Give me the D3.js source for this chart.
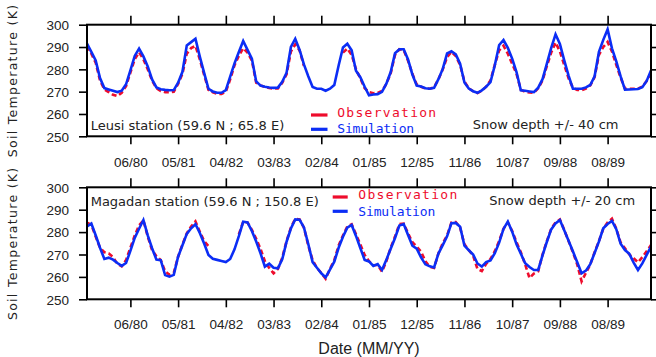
<!DOCTYPE html>
<html><head><meta charset="utf-8">
<script src="https://cdn.jsdelivr.net/npm/d3@7"></script>
<style>body{margin:0;background:#fff}svg{display:block}</style>
</head><body>
<svg id="c" width="656" height="357"></svg>
<script>
// Month index: 0 = Jan 1979. Monthly series run from Aug 1979 (7) to Jun 1990 (137).
const firstMonth = 7;
const lastMonth = 137;
const tickMonths = [17, 28, 39, 50, 61, 72, 83, 94, 105, 116, 127];
const tickLabels = ["06/80","05/81","04/82","03/83","02/84","01/85","12/85","11/86","10/87","09/88","08/89"];
const yTicks = [250, 260, 270, 280, 290, 300];
const seriesNames = ["Observation", "Simulation"];

// Leusi station (rows: 1979 Aug-Dec, then Jan-Dec each year, 1990 Jan-Jun)
const leusiObs = [
 290.5,287,283,275,271,
 269.8,268.6,268,269.5,272.5,278.5,284.5,287.6,284.5,280,275,271.5,
 270.3,269.8,269.8,270,273.5,278,287,289.5,290.5,284.5,277.5,270.8,
 269.7,269,269,270,275.5,281.8,286,289.5,287.5,284,274,272.8,
 272.1,271.6,271.4,271.4,274,277.8,288,291.2,288.5,281.5,null,null,
 null,null,null,null,null,null,287.5,289.3,286.5,280,276,271.5,
 269.8,269.3,269.4,270.3,273.5,278.2,286.5,289,288.6,283.8,278,273.2,
 272.2,271.4,271.3,272,275.5,280,285.5,287.8,286,282,274.5,271.5,
 270.2,269.4,270.4,272.2,275,282,288.5,290.6,287,282.5,278,270.8,
 270,269.6,269.5,271.5,275,281.5,287.5,292,288,282,276,271.7,
 270.8,270.6,271.4,272.8,276.5,286.5,290,292.3,288,282,276.3,271.3,
 271.3,271.3,271.3,272.3,274.8,278.5
];
const leusiSim = [
 291.5,287.8,284,276.1,271.6,
 271,270.4,269.8,270.4,273.3,279.5,286,289.3,285.8,281.3,275.5,271.9,
 271.1,270.8,270.6,270.7,274,278.9,290.7,292.2,293.7,285.7,278.4,271.3,
 270.1,269.5,269.5,270.7,276.7,282.7,287.8,292.7,288.7,284.8,274.6,272.7,
 272.2,271.9,271.7,271.8,274.4,278.5,290,293.7,288.7,282.2,276.9,272.1,
 271.3,271.3,270.4,271.3,273,281.7,289.8,291.5,288.5,279.4,276.5,272.2,
 268.4,268.7,268.9,269.9,273.6,278.8,287.2,289,289,284.4,277.7,272.7,
 272.3,271.5,271.3,271.7,275.6,280.2,287.1,288.1,286.7,282.5,274.1,271.4,
 270.2,269.5,270.6,272.2,274.3,281.8,290.9,293.1,289.6,284.8,278.8,270.6,
 270.4,270.1,269.8,271.8,275.6,282.6,289.6,295.7,291.4,284,277.2,271.3,
 271.3,271.3,271.9,273,276.9,287.8,293.2,297.9,289.4,283.6,276.8,270.9,
 271,271.1,271.2,272,274.8,279.5
];

// Magadan station
const magadanObs = [
 284.2,283.3,278,273,271,
 270.5,268.8,265.8,264.7,267.5,273,278.5,283,285.2,278,272,269.2,
 267.5,262.5,261,261.8,269,274.5,279.4,282.5,284.8,280.2,276,273.7,
 null,null,null,null,null,null,279,284.6,284.3,281,277,272.5,
 267,264,261.6,263.5,268.5,276,282,285.9,285.6,282,274,267.5,
 264,261.8,259.2,263.5,267.5,274,278.5,282.5,283.5,279,274.5,269.8,
 267,265.2,265.3,262.3,267,273,278,283.6,283.8,279.5,275.5,273.5,
 271.2,267,264.5,264,270.5,275,278.5,284.3,284.5,282,274.5,272,
 269.5,263.5,262.6,265.8,268,271.5,276,281.5,284.3,280.5,275.5,271,
 265.5,259.5,261.5,262.5,270,276,281.5,284.3,285.6,281,276,271,
 265.5,258,261.8,265.5,271,276,281.5,284.3,286,281.5,275.3,272.8,
 270,268.3,266.5,268.8,271.5,274.2
];
const magadanSim = [
 282.5,283.8,278.6,273,268,
 268.6,267.7,266.2,264.9,266.2,271.6,277.4,281.5,285.4,278.5,272.8,267.7,
 267.5,260.8,260.1,260.9,269,274.1,279.2,281.7,283.5,279.6,274.9,269.8,
 268.1,267.6,267.1,266.6,268,272.3,278.2,284.6,284.3,280.5,275.8,270.5,
 264.6,265.9,264.1,263.8,267.8,275.7,281.6,285.7,285.5,282.1,274.7,266.6,
 264.1,261.6,259.8,263.3,266.8,273,277.9,282,283.2,278.3,272.9,267.6,
 266.9,264.9,265.7,263.1,267.6,272.6,277.4,282.9,283.6,278.7,273.9,272.6,
 268.7,265.6,264.7,264.2,270.4,274.2,278.1,284,284.1,282.4,274,271.9,
 270,266,264.6,266.6,267.3,270.6,275.3,281.4,284.7,280.2,274.6,270.3,
 266.1,264.4,263.1,263.1,269.6,275.7,281.2,283.9,285.4,280.8,276.1,271.4,
 266.5,261.6,262.8,265.7,270.7,275.8,281.7,283.6,285,281.3,274.8,272,
 270.3,266.4,263.1,266,269.8,273.5
];

const months = d3.range(firstMonth, lastMonth + 1);
const RED = "#ee0c2c", BLUE = "#0b2df5";
const FONT = "DejaVu Sans, Liberation Sans, sans-serif";
const TICKFONT = "Liberation Sans, Arial, sans-serif";
const MONO = "DejaVu Sans Mono, Liberation Mono, monospace";

const svg = d3.select("#c");
const X0 = 87, X1 = 651;
const x = d3.scaleLinear().domain([firstMonth, lastMonth]).range([X0, X1]);

const panels = [
  {top: 24.7, bottom: 136.3, obs: leusiObs, sim: leusiSim, labelY: 162,
   station: "Leusi station (59.6 N ; 65.8 E)", stationY: 125.7,
   snow: "Snow depth +/- 40 cm", snowX: 472.7, snowY: 124.7,
   legX1: 311, legX2: 327.5, legTx: 337.2, legY: [112.3, 128], legLineY: [115, 129.3]},
  {top: 187.3, bottom: 299.3, obs: magadanObs, sim: magadanSim, labelY: 324.7,
   station: "Magadan station (59.6 N ; 150.8 E)", stationY: 201.3,
   snow: "Snow depth +/- 20 cm", snowX: 489.3, snowY: 200.7,
   legX1: 332.7, legX2: 347.7, legTx: 358.3, legY: [194.7, 211.3], legLineY: [197, 211.3]}
];

panels.forEach((p, i) => {
  const y = d3.scaleLinear().domain([250, 300]).range([p.bottom, p.top]);
  const g = svg.append("g");
  const clipId = "clip" + i;
  svg.append("clipPath").attr("id", clipId).append("rect")
    .attr("x", X0).attr("y", p.top).attr("width", X1 - X0).attr("height", p.bottom - p.top);

  // axes (ticks outward on all four sides)
  const left = g.append("g").attr("transform", `translate(${X0},0)`)
    .call(d3.axisLeft(y).tickValues(yTicks).tickSize(8).tickPadding(10).tickSizeOuter(0));
  const right = g.append("g").attr("transform", `translate(${X1},0)`)
    .call(d3.axisRight(y).tickValues(yTicks).tickSize(6).tickFormat("").tickSizeOuter(0));
  const topA = g.append("g").attr("transform", `translate(0,${p.top})`)
    .call(d3.axisTop(x).tickValues(tickMonths).tickSize(9).tickFormat("").tickSizeOuter(0));
  const bot = g.append("g").attr("transform", `translate(0,${p.bottom})`)
    .call(d3.axisBottom(x).tickValues(tickMonths).tickSize(8).tickSizeOuter(0)
      .tickFormat((d, k) => tickLabels[k]));
  [left, right, topA, bot].forEach(a => {
    a.select(".domain").remove();
    a.selectAll(".tick line").attr("stroke", "#000").attr("stroke-width", 1.6);
    a.selectAll("text").attr("font-family", TICKFONT).attr("font-size", 13.5).attr("fill", "#222");
  });
  bot.selectAll("text").attr("y", p.labelY - p.bottom).attr("dy", "0.35em");
  left.selectAll("text").attr("dy", "0.36em");

  // series
  const line = vals => d3.line()
    .defined((d, k) => vals[k] != null)
    .x(d => x(d))
    .y((d, k) => y(vals[k]))(months);
  g.append("path").attr("clip-path", `url(#${clipId})`).attr("d", line(p.obs))
    .attr("fill", "none").attr("stroke", RED).attr("stroke-width", 2.6)
    .attr("stroke-dasharray", "5,3");
  g.append("path").attr("clip-path", `url(#${clipId})`).attr("d", line(p.sim))
    .attr("fill", "none").attr("stroke", BLUE).attr("stroke-width", 2.6)
    .attr("stroke-linejoin", "miter");

  // frame
  g.append("rect").attr("x", X0).attr("y", p.top).attr("width", X1 - X0)
    .attr("height", p.bottom - p.top).attr("fill", "none").attr("stroke", "#000").attr("stroke-width", 2);

  // texts
  g.append("text").attr("x", 90.7).attr("y", p.stationY).attr("dy", "0.35em")
    .attr("font-family", FONT).attr("font-size", 13).attr("fill", "#222").text(p.station);
  g.append("text").attr("x", p.snowX).attr("y", p.snowY).attr("dy", "0.35em")
    .attr("font-family", FONT).attr("font-size", 13).attr("fill", "#222").text(p.snow);

  // legend
  [RED, BLUE].forEach((c, k) => {
    g.append("line").attr("x1", p.legX1).attr("x2", p.legX2)
      .attr("y1", p.legLineY[k]).attr("y2", p.legLineY[k])
      .attr("stroke", c).attr("stroke-width", 3.2);
    g.append("text").attr("x", p.legTx).attr("y", p.legY[k]).attr("dy", "0.35em")
      .attr("font-family", MONO).attr("font-size", 13).attr("fill", c)
      .attr("textLength", k === 0 ? 99 : 77).attr("lengthAdjust", "spacing")
      .text(seriesNames[k]);
  });

  // y-axis label
  svg.append("text").attr("transform", `translate(12.5,${(p.top + p.bottom) / 2}) rotate(-90)`)
    .attr("text-anchor", "middle").attr("dy", "0.35em")
    .attr("font-family", FONT).attr("font-size", 12.5).attr("fill", "#222")
    .attr("letter-spacing", 1.3).text("Soil Temperature (K)");
});

svg.append("text").attr("x", (X0 + X1) / 2).attr("y", 353.5)
  .attr("text-anchor", "middle").attr("font-family", TICKFONT).attr("font-size", 16)
  .attr("fill", "#222").text("Date (MM/YY)");
</script>
</body></html>
